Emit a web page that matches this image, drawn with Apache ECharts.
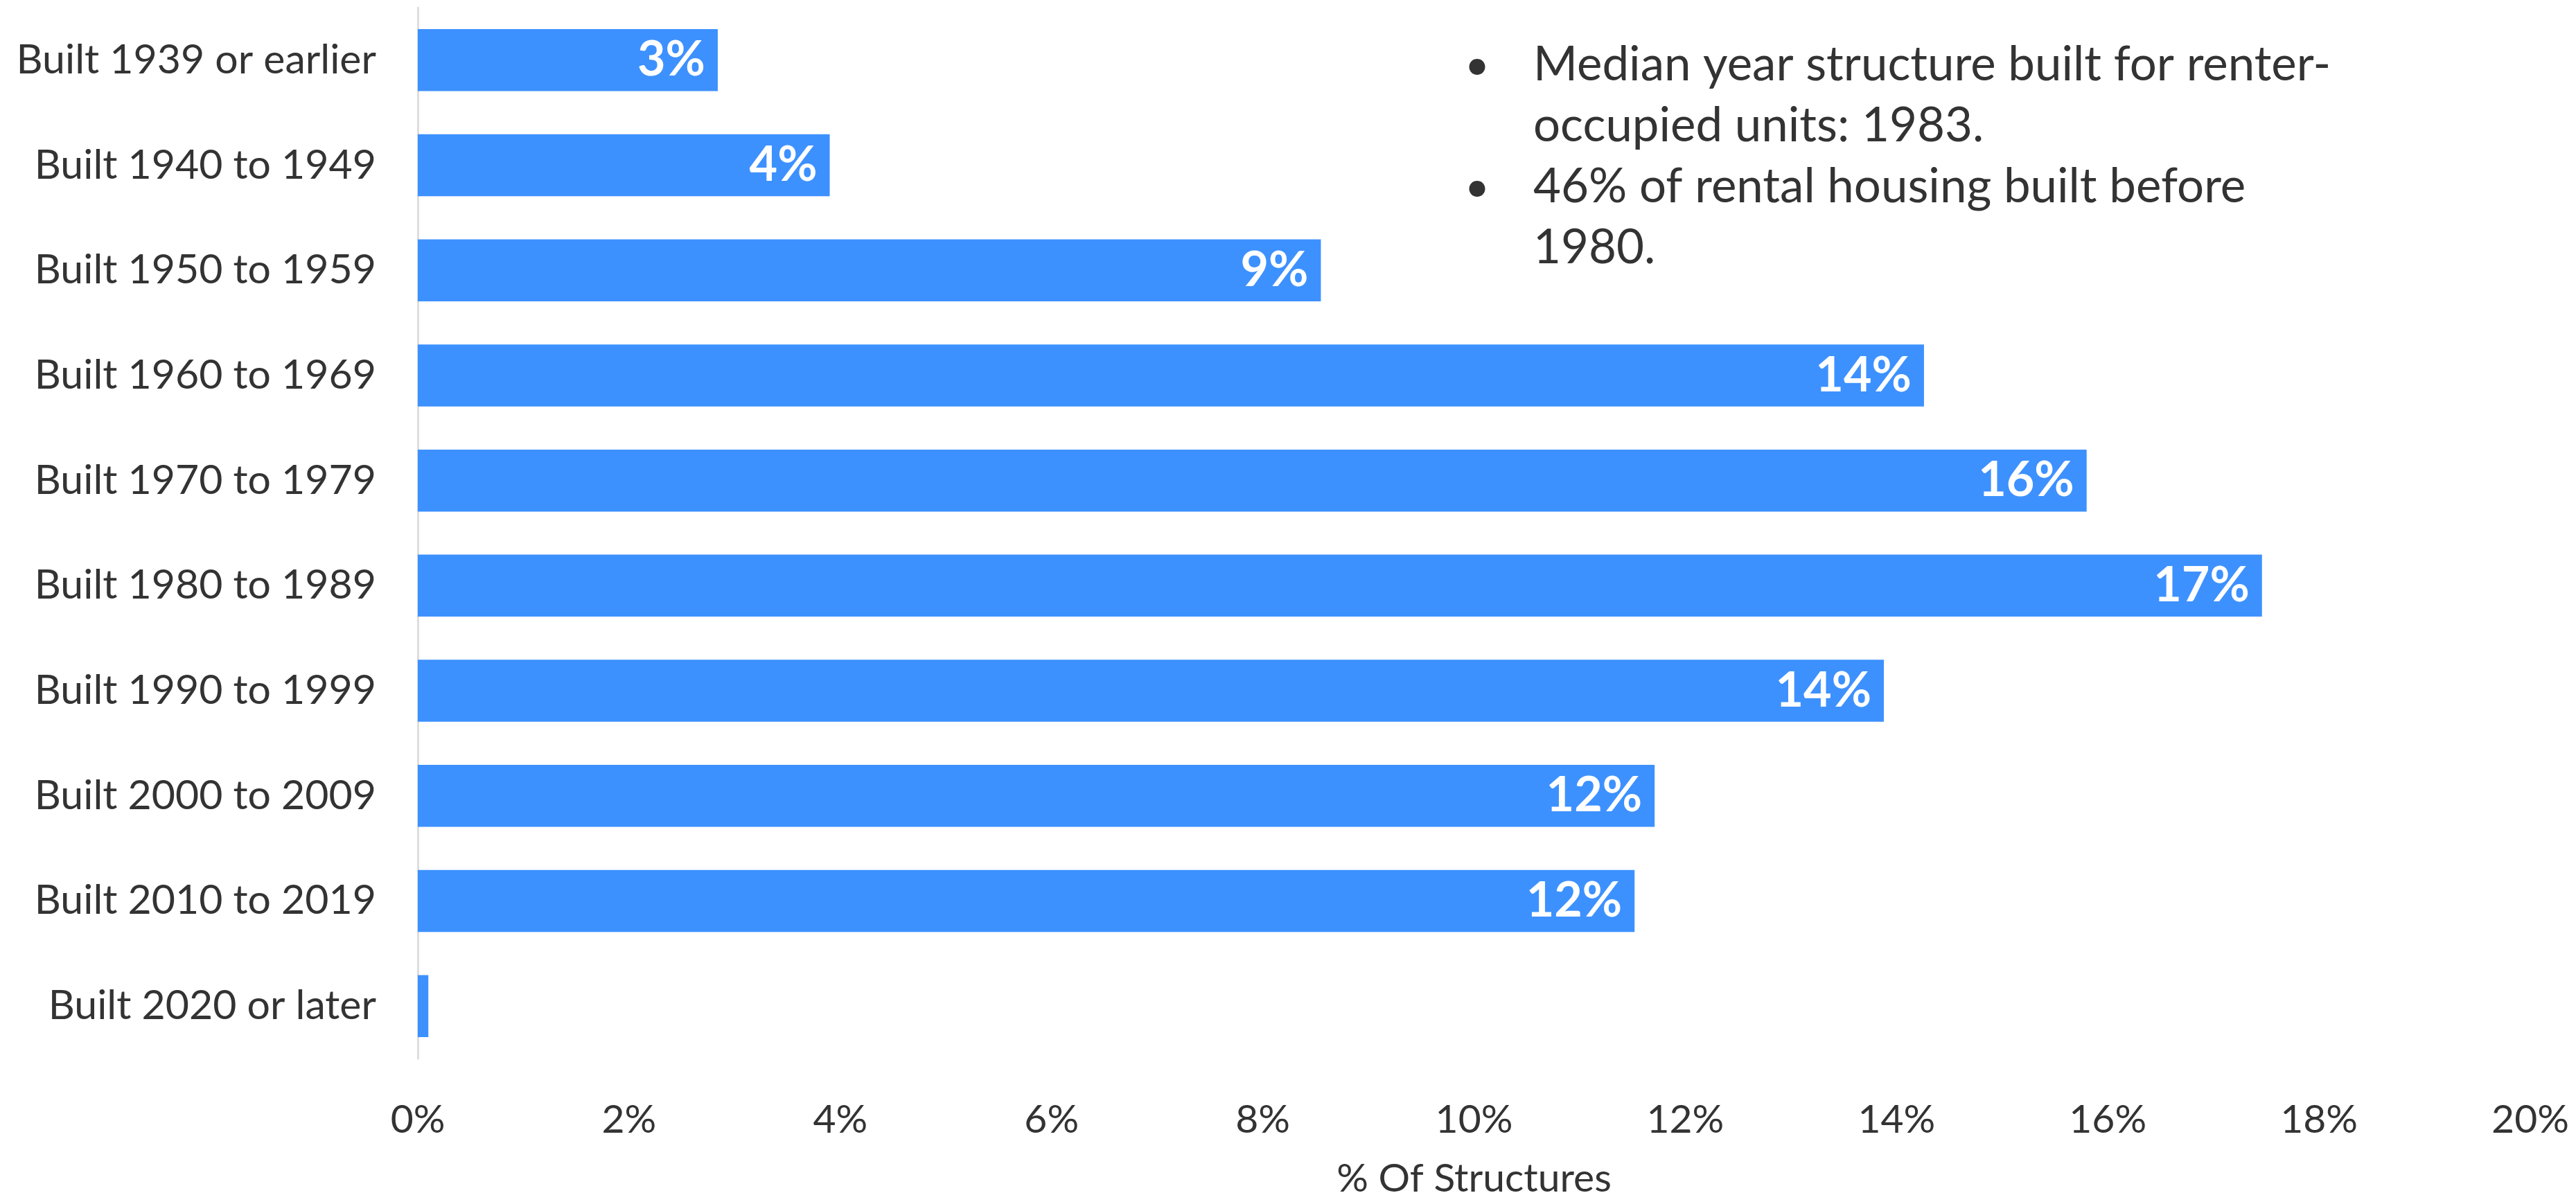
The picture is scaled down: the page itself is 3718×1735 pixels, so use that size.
<!DOCTYPE html>
<html>
<head>
<meta charset="utf-8">
<title>Year Structure Built</title>
<script src="https://cdn.jsdelivr.net/npm/echarts@6/dist/echarts.min.js"></script>
<style>
    html, body { margin: 0; padding: 0; background: #fff; }
    #chart { width: 3718px; height: 1735px; }
</style>
</head>
<body>
<div id="chart"></div>
<script>
// categories, top to bottom
var categories = [
    'Built 1939 or earlier',
    'Built 1940 to 1949',
    'Built 1950 to 1959',
    'Built 1960 to 1969',
    'Built 1970 to 1979',
    'Built 1980 to 1989',
    'Built 1990 to 1999',
    'Built 2000 to 2009',
    'Built 2010 to 2019',
    'Built 2020 or later'
];
// % of structures
var shares = [2.84, 3.90, 8.55, 14.26, 15.80, 17.46, 13.88, 11.71, 11.52, 0.1];
var noteLines = [
    { bullet: true, text: 'Median year structure built for renter-' },
    { bullet: false, text: 'occupied units: 1983.' },
    { bullet: true, text: '46% of rental housing built before' },
    { bullet: false, text: '1980.' }
];

var FONT = 'Lato';
var TEXT_COLOR = '#333333';

function buildNotes() {
    var items = [];
    for (var i = 0; i < noteLines.length; i++) {
        var y = 101 + i * 88;
        if (noteLines[i].bullet) {
            items.push({
                type: 'text', left: 2114, top: y - 37,
                style: { text: '•', fontFamily: FONT, fontSize: 62, fill: TEXT_COLOR }
            });
        }
        items.push({
            type: 'text', left: 2213, top: y - 42,
            style: { text: noteLines[i].text, fontFamily: FONT, fontSize: 69, fill: TEXT_COLOR }
        });
    }
    return items;
}

var chart = echarts.init(document.getElementById('chart'));
chart.setOption({
    animation: false,
    textStyle: { fontFamily: FONT },
    grid: { left: 603, right: 66, top: 11, bottom: 183, containLabel: false },
    xAxis: {
        type: 'value',
        min: 0,
        max: 20,
        interval: 2,
        name: '% Of Structures',
        nameLocation: 'middle',
        nameGap: 145,
        nameTextStyle: { fontFamily: FONT, fontSize: 57, color: TEXT_COLOR },
        axisLine: { show: false },
        axisTick: { show: false },
        splitLine: { show: false },
        axisLabel: {
            formatter: '{value}%',
            margin: 60,
            fontFamily: FONT,
            fontSize: 57,
            color: TEXT_COLOR
        }
    },
    yAxis: {
        type: 'category',
        data: categories,
        inverse: true,
        axisLine: { show: true, lineStyle: { color: '#dddddd', width: 3 } },
        axisTick: { show: false },
        axisLabel: {
            margin: 60,
            fontFamily: FONT,
            fontSize: 59,
            color: TEXT_COLOR
        }
    },
    series: [{
        type: 'bar',
        data: shares,
        barCategoryGap: '41%',
        itemStyle: { color: '#3d91ff' },
        label: {
            show: true,
            position: 'insideRight',
            distance: 18,
            color: '#ffffff',
            fontFamily: FONT,
            fontWeight: 'bold',
            fontSize: 70,
            formatter: function(p) {
                var v = Math.round(p.value);
                return v < 1 ? '' : v + '%';
            }
        }
    }],
    graphic: buildNotes()
});
</script>
</body>
</html>
